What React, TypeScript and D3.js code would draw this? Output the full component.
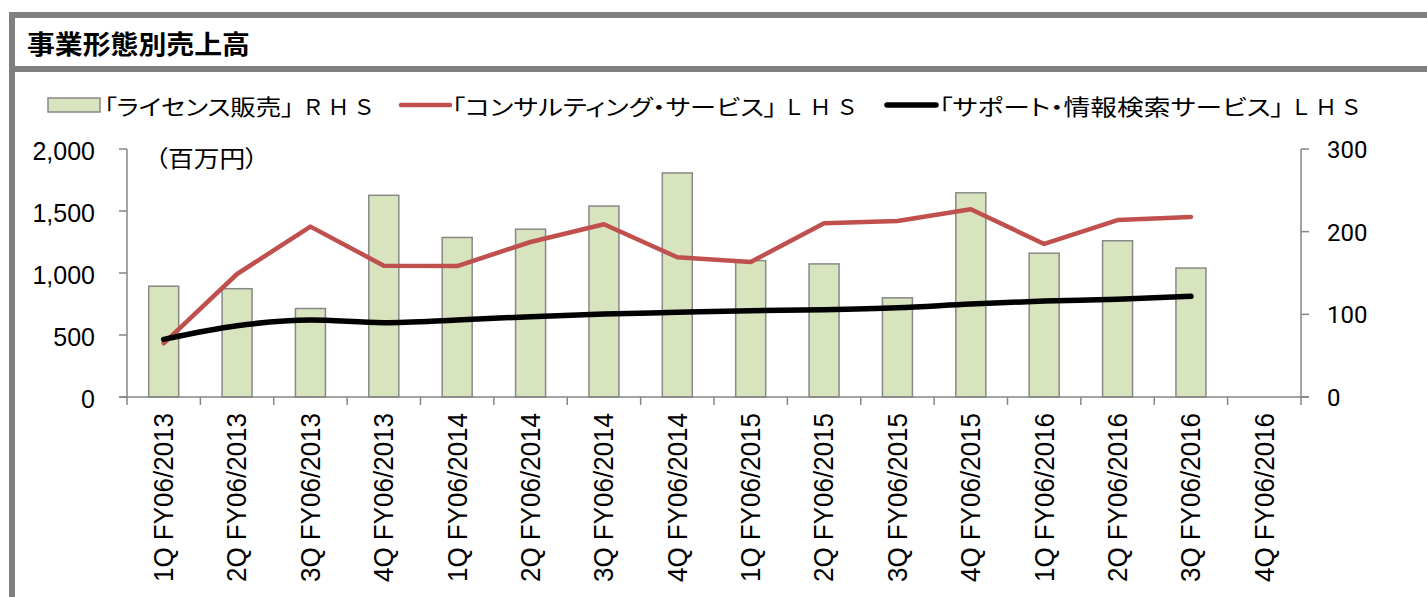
import React, { useEffect, useRef } from 'react';
import * as d3 from 'd3';

// categories (last quarter has no data yet)
const quarters = [
  '1Q FY06/2013', '2Q FY06/2013', '3Q FY06/2013', '4Q FY06/2013',
  '1Q FY06/2014', '2Q FY06/2014', '3Q FY06/2014', '4Q FY06/2014',
  '1Q FY06/2015', '2Q FY06/2015', '3Q FY06/2015', '4Q FY06/2015',
  '1Q FY06/2016', '2Q FY06/2016', '3Q FY06/2016', '4Q FY06/2016',
];

// ライセンス販売 (RHS)
const licenseSales = [134, 131, 107, 244, 193, 203, 231, 271, 165, 161, 120, 247, 174, 189, 156];
// コンサルティング・サービス (LHS)
const consulting = [433, 992, 1374, 1059, 1056, 1250, 1393, 1127, 1089, 1401, 1419, 1514, 1234, 1427, 1452];
// サポート・情報検索サービス (LHS)
const support = [465, 575, 621, 599, 621, 648, 669, 683, 696, 704, 720, 750, 774, 788, 812];

const leftTicks = [0, 500, 1000, 1500, 2000];
const rightTicks = [0, 100, 200, 300];

const title = '事業形態別売上高';
const unitLabel = '（百万円）';
const legendNames = [
  '「ライセンス販売」',
  '「コンサルティング・サービス」',
  '「サポート・情報検索サービス」',
];
const legendSides = ['ＲＨＳ', 'ＬＨＳ', 'ＬＨＳ'];

const W = 1427;
const H = 597;
const GRAY = '#808080';
const AXIS = '#868686';
const JP = '"Noto Sans CJK JP", "Noto Sans", sans-serif';
const LATIN = '"Liberation Sans", Arial, sans-serif';

const App: React.FC = () => {
  const svgRef = useRef<SVGSVGElement>(null);

  useEffect(() => {
    document.body.style.margin = '0';
    if (!svgRef.current) return;
    const svg = d3.select(svgRef.current);
    svg.selectAll('*').remove();

    // frame
    svg.append('rect').attr('x', 9).attr('y', 12).attr('width', W).attr('height', 6).attr('fill', GRAY);
    svg.append('rect').attr('x', 9).attr('y', 66).attr('width', W).attr('height', 6).attr('fill', GRAY);
    svg.append('rect').attr('x', 9).attr('y', 12).attr('width', 6).attr('height', H).attr('fill', GRAY);

    svg.append('text')
      .attr('x', 27).attr('y', 42)
      .attr('dominant-baseline', 'central')
      .attr('font-family', JP).attr('font-weight', 'bold').attr('font-size', 26)
      .attr('textLength', 223).attr('lengthAdjust', 'spacingAndGlyphs')
      .attr('fill', '#000')
      .text(title);

    // scales
    const x = d3.scaleBand<string>().domain(quarters).range([127, 1301]);
    const yL = d3.scaleLinear().domain([0, 2000]).range([397, 149]);
    const yR = d3.scaleLinear().domain([0, 300]).range([397, 149]);
    const cx = (i: number) => (x(quarters[i]) ?? 0) + x.bandwidth() / 2;
    const barW = 30;

    // bars
    svg.append('g').selectAll('rect')
      .data(licenseSales)
      .join('rect')
      .attr('x', (_, i) => cx(i) - barW / 2)
      .attr('y', d => yR(d))
      .attr('width', barW)
      .attr('height', d => yR(0) - yR(d))
      .attr('fill', '#D7E4BD')
      .attr('stroke', '#888')
      .attr('stroke-width', 1.5);

    // axes
    const axisG = svg.append('g').attr('stroke', AXIS).attr('stroke-width', 1.5);
    axisG.append('line').attr('x1', 127).attr('x2', 127).attr('y1', 149).attr('y2', 397);
    axisG.append('line').attr('x1', 1301).attr('x2', 1301).attr('y1', 149).attr('y2', 397);
    axisG.append('line').attr('x1', 119).attr('x2', 1309).attr('y1', 397).attr('y2', 397);
    leftTicks.forEach(t => {
      axisG.append('line').attr('x1', 119).attr('x2', 127).attr('y1', yL(t)).attr('y2', yL(t));
    });
    rightTicks.forEach(t => {
      axisG.append('line').attr('x1', 1301).attr('x2', 1309).attr('y1', yR(t)).attr('y2', yR(t));
    });
    d3.range(quarters.length + 1).forEach(i => {
      const xx = 127 + i * x.step();
      axisG.append('line').attr('x1', xx).attr('x2', xx).attr('y1', 397).attr('y2', 405);
    });

    // tick labels
    svg.append('g').selectAll('text')
      .data(leftTicks)
      .join('text')
      .attr('x', 95).attr('y', d => yL(d) + 2)
      .attr('text-anchor', 'end').attr('dominant-baseline', 'central')
      .attr('font-family', LATIN).attr('font-size', 25).attr('fill', '#000')
      .text(d => d3.format(',')(d));

    svg.append('g').selectAll('text')
      .data(rightTicks)
      .join('text')
      .attr('x', 1327).attr('y', d => yR(d) + 1)
      .attr('dominant-baseline', 'central')
      .attr('font-family', 'Roboto, sans-serif').attr('font-size', 24).attr('fill', '#000')
      .text(d => String(d));

    svg.append('g').selectAll('text')
      .data(quarters)
      .join('text')
      .attr('transform', (_, i) => `translate(${cx(i)},413) rotate(-90) scale(1,1.08)`)
      .attr('text-anchor', 'end').attr('dominant-baseline', 'central')
      .attr('font-family', LATIN).attr('font-size', 26).attr('fill', '#000')
      .text(d => d);

    svg.append('text')
      .attr('x', 155).attr('y', 157)
      .attr('dominant-baseline', 'central')
      .attr('font-family', JP).attr('font-size', 23)
      .style('font-feature-settings', '"palt"')
      .attr('textLength', 103).attr('lengthAdjust', 'spacingAndGlyphs')
      .attr('fill', '#000')
      .text(unitLabel);

    // lines
    const lineL = d3.line<number>().x((_, i) => cx(i)).y(d => yL(d));
    svg.append('path')
      .datum(consulting)
      .attr('d', lineL)
      .attr('fill', 'none')
      .attr('stroke', '#C0504D')
      .attr('stroke-width', 4.5)
      .attr('stroke-linejoin', 'round')
      .attr('stroke-linecap', 'round');

    svg.append('path')
      .datum(support)
      .attr('d', lineL.curve(d3.curveMonotoneX))
      .attr('fill', 'none')
      .attr('stroke', '#000')
      .attr('stroke-width', 5.5)
      .attr('stroke-linejoin', 'round')
      .attr('stroke-linecap', 'round');

    // legend
    const ly = 105;
    const leg = svg.append('g');
    leg.append('rect').attr('x', 48).attr('y', 98).attr('width', 52).attr('height', 14)
      .attr('fill', '#D7E4BD').attr('stroke', '#888').attr('stroke-width', 1.5);
    leg.append('line').attr('x1', 401).attr('x2', 450).attr('y1', ly).attr('y2', ly)
      .attr('stroke', '#C0504D').attr('stroke-width', 4.5).attr('stroke-linecap', 'round');
    leg.append('line').attr('x1', 887).attr('x2', 936).attr('y1', ly).attr('y2', ly)
      .attr('stroke', '#000').attr('stroke-width', 5.5).attr('stroke-linecap', 'round');
    // [name start, name length, side start, side length]
    const legendPos: [number, number, number, number][] = [
      [104, 190, 302, 73],
      [452, 325, 783, 75],
      [939, 345, 1290, 72],
    ];
    legendNames.forEach((name, i) => {
      const [nx, nl, sx, sl] = legendPos[i];
      leg.append('text')
        .attr('x', nx).attr('y', ly)
        .attr('dominant-baseline', 'central')
        .attr('font-family', JP).attr('font-size', 22)
        .style('font-feature-settings', '"palt"')
        .attr('textLength', nl).attr('lengthAdjust', 'spacingAndGlyphs')
        .attr('fill', '#000')
        .text(name);
      leg.append('text')
        .attr('x', sx).attr('y', ly)
        .attr('dominant-baseline', 'central')
        .attr('font-family', JP).attr('font-size', 22)
        .attr('textLength', sl).attr('lengthAdjust', 'spacing')
        .attr('fill', '#000')
        .text(legendSides[i]);
    });
  }, []);

  return (
    <svg
      ref={svgRef}
      width={W}
      height={H}
      style={{ position: 'absolute', left: 0, top: 0, background: '#fff' }}
    />
  );
};

export default App;
